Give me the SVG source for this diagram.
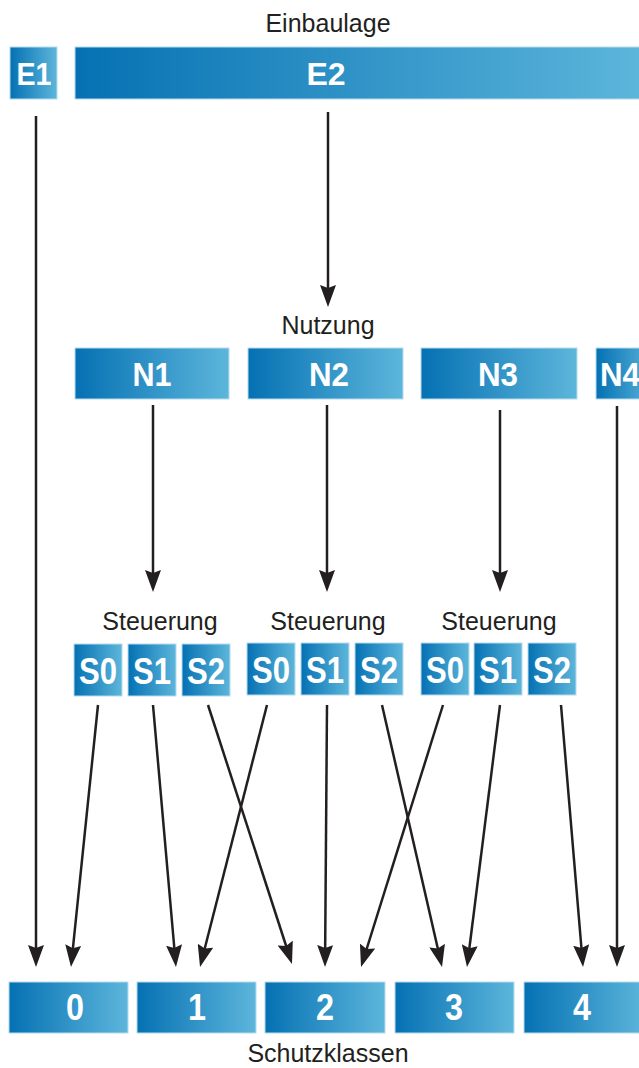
<svg xmlns="http://www.w3.org/2000/svg" width="639" height="1068" viewBox="0 0 639 1068">
<style>
.box{fill:url(#g);stroke:#b5dcef;stroke-width:1}
.lbl{font-family:"Liberation Sans",Arial,sans-serif;font-weight:bold;font-size:32px;fill:#fff;text-anchor:middle}
.s{font-size:37px}
.n{font-size:34px}
.k{font-size:36px}
.cap{font-family:"Liberation Sans",Arial,sans-serif;font-size:25px;fill:#231f20;text-anchor:middle}
.c line{stroke:#231f20;stroke-width:2.5;marker-end:url(#a)}
</style>
<defs>
<linearGradient id="g" x1="0" y1="0" x2="1" y2="0">
<stop offset="0" stop-color="#0571b3"/>
<stop offset="1" stop-color="#5db6db"/>
</linearGradient>
<marker id="a" viewBox="0 0 22 16" refX="12" refY="8" markerWidth="22" markerHeight="16" markerUnits="userSpaceOnUse" orient="auto">
<path d="M0,0 L22,8 L0,16 L3,8 z" fill="#231f20"/>
</marker>
</defs>
<text class="cap" x="328" y="32">Einbaulage</text>
<text class="cap" x="328" y="334">Nutzung</text>
<text class="cap" x="160" y="630">Steuerung</text>
<text class="cap" x="328" y="630">Steuerung</text>
<text class="cap" x="499" y="630">Steuerung</text>
<text class="cap" x="328" y="1062">Schutzklassen</text>
<g id="E1"><rect class="box" x="10" y="47" width="47" height="52"/><text class="lbl" x="34" y="85" textLength="35" lengthAdjust="spacingAndGlyphs">E1</text></g>
<g id="E2"><rect class="box" x="75" y="47" width="570" height="52"/><text class="lbl" x="326" y="85">E2</text></g>
<g id="N1"><rect class="box" x="75" y="348" width="154" height="51"/><text class="lbl n" x="152" y="386" textLength="39" lengthAdjust="spacingAndGlyphs">N1</text></g>
<g id="N2"><rect class="box" x="248" y="348" width="155" height="51"/><text class="lbl n" x="329" y="386" textLength="40" lengthAdjust="spacingAndGlyphs">N2</text></g>
<g id="N3"><rect class="box" x="421" y="348" width="156" height="51"/><text class="lbl n" x="498" y="386" textLength="40" lengthAdjust="spacingAndGlyphs">N3</text></g>
<g id="N4"><rect class="box" x="596" y="348" width="60" height="51"/><text class="lbl n" x="600" y="386" style="text-anchor:start" textLength="40" lengthAdjust="spacingAndGlyphs">N4</text></g>
<g id="S0a"><rect class="box" x="74" y="644" width="48" height="52"/><text class="lbl s" x="98" y="684" textLength="38" lengthAdjust="spacingAndGlyphs">S0</text></g>
<g id="S1a"><rect class="box" x="128" y="644" width="48" height="52"/><text class="lbl s" x="152" y="684" textLength="38" lengthAdjust="spacingAndGlyphs">S1</text></g>
<g id="S2a"><rect class="box" x="182" y="644" width="48" height="52"/><text class="lbl s" x="206" y="684" textLength="38" lengthAdjust="spacingAndGlyphs">S2</text></g>
<g id="S0b"><rect class="box" x="247" y="643" width="48" height="52"/><text class="lbl s" x="271" y="683" textLength="38" lengthAdjust="spacingAndGlyphs">S0</text></g>
<g id="S1b"><rect class="box" x="301" y="643" width="48" height="52"/><text class="lbl s" x="325" y="683" textLength="38" lengthAdjust="spacingAndGlyphs">S1</text></g>
<g id="S2b"><rect class="box" x="355" y="643" width="48" height="52"/><text class="lbl s" x="379" y="683" textLength="38" lengthAdjust="spacingAndGlyphs">S2</text></g>
<g id="S0c"><rect class="box" x="421" y="643" width="48" height="52"/><text class="lbl s" x="445" y="683" textLength="38" lengthAdjust="spacingAndGlyphs">S0</text></g>
<g id="S1c"><rect class="box" x="474" y="643" width="48" height="52"/><text class="lbl s" x="498" y="683" textLength="38" lengthAdjust="spacingAndGlyphs">S1</text></g>
<g id="S2c"><rect class="box" x="528" y="643" width="48" height="52"/><text class="lbl s" x="552" y="683" textLength="38" lengthAdjust="spacingAndGlyphs">S2</text></g>
<g id="K0"><rect class="box" x="9" y="982" width="119" height="51"/><text class="lbl k" x="75" y="1020" textLength="18" lengthAdjust="spacingAndGlyphs">0</text></g>
<g id="K1"><rect class="box" x="137" y="982" width="119" height="51"/><text class="lbl k" x="197" y="1020" textLength="18" lengthAdjust="spacingAndGlyphs">1</text></g>
<g id="K2"><rect class="box" x="265" y="982" width="120" height="51"/><text class="lbl k" x="325" y="1020" textLength="18" lengthAdjust="spacingAndGlyphs">2</text></g>
<g id="K3"><rect class="box" x="395" y="982" width="119" height="51"/><text class="lbl k" x="454" y="1020" textLength="18" lengthAdjust="spacingAndGlyphs">3</text></g>
<g id="K4"><rect class="box" x="524" y="982" width="121" height="51"/><text class="lbl k" x="582" y="1020" textLength="18" lengthAdjust="spacingAndGlyphs">4</text></g>
<g id="connectors" class="c">
<line x1="36" y1="116" x2="36" y2="957"/>
<line x1="98" y1="705" x2="72" y2="957.1"/>
<line x1="153" y1="705" x2="175.1" y2="957"/>
<line x1="208" y1="705" x2="288.9" y2="954.5"/>
<line x1="267" y1="705" x2="202.5" y2="957.3"/>
<line x1="327" y1="705" x2="325.1" y2="957"/>
<line x1="382" y1="705" x2="439.8" y2="957.3"/>
<line x1="443" y1="705" x2="364" y2="957.5"/>
<line x1="500" y1="705" x2="468.25" y2="957.1"/>
<line x1="561" y1="705" x2="582.2" y2="957"/>
<line x1="617" y1="406" x2="617" y2="957"/>
<line x1="328" y1="112" x2="328" y2="297"/>
<line x1="153" y1="405" x2="153" y2="582"/>
<line x1="327" y1="405" x2="327" y2="582"/>
<line x1="500" y1="410" x2="500" y2="582"/>
</g>
</svg>
